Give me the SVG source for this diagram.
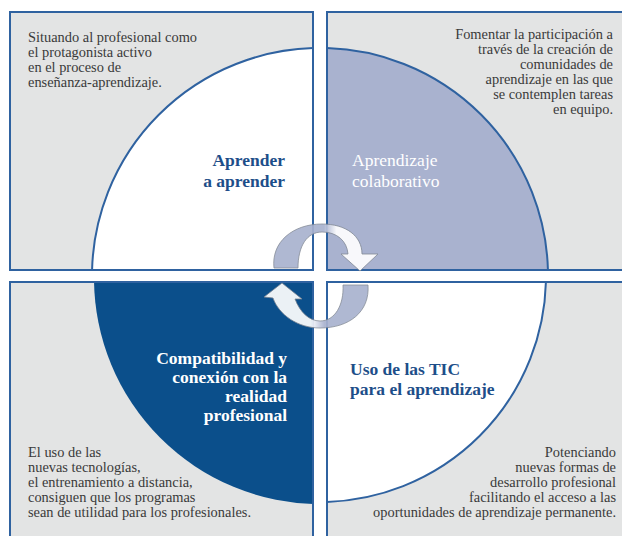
<svg xmlns="http://www.w3.org/2000/svg" width="622" height="536" viewBox="0 0 622 536">
<style>
.panel{fill:#e3e4e4}
.border{fill:none;stroke:#2f62a0;stroke-width:2}
.arrow{stroke:#7d8590;stroke-width:0.8;opacity:0.92}
</style>
<defs>
<clipPath id="cTL"><rect x="10" y="12" width="303" height="258"/></clipPath>
<clipPath id="cTR"><rect x="327" y="12" width="300" height="258"/></clipPath>
<clipPath id="cBL"><rect x="10" y="282" width="303" height="260"/></clipPath>
<clipPath id="cBR"><rect x="327" y="282" width="300" height="260"/></clipPath>
<linearGradient id="gTop" gradientUnits="userSpaceOnUse" x1="274" y1="0" x2="378" y2="0">
<stop offset="0" stop-color="#a9b2cf"/><stop offset="0.48" stop-color="#a9b2cf"/><stop offset="0.6" stop-color="#ffffff"/><stop offset="1" stop-color="#ffffff"/>
</linearGradient>
<linearGradient id="gBot" gradientUnits="userSpaceOnUse" x1="264" y1="0" x2="368" y2="0">
<stop offset="0" stop-color="#ffffff"/><stop offset="0.45" stop-color="#ffffff"/><stop offset="0.58" stop-color="#a9b2cf"/><stop offset="1" stop-color="#a9b2cf"/>
</linearGradient>
</defs>
<rect width="622" height="536" fill="#ffffff"/>

<g id="node-tl">
<g clip-path="url(#cTL)">
<rect class="panel" x="10" y="12" width="303" height="258"/>
<circle cx="320" cy="276" r="228" fill="#ffffff" stroke="#2f62a0" stroke-width="2"/>
</g>
<path class="border" d="M313,270 L10,270 L10,12 L313,12 Z"/>
<text font-family="Liberation Serif, DejaVu Serif, serif" font-size="14.4" fill="#3a3a3a"><tspan x="28" y="42">Situando al profesional como</tspan><tspan x="28" y="57">el protagonista activo</tspan><tspan x="28" y="72">en el proceso de</tspan><tspan x="28" y="87">enseñanza-aprendizaje.</tspan></text>
<text font-family="Liberation Serif, DejaVu Serif, serif" font-size="17.5" font-weight="bold" fill="#1d4e89" text-anchor="end"><tspan x="285" y="166">Aprender</tspan><tspan x="285" y="187">a aprender</tspan></text>
</g>

<g id="node-tr">
<g clip-path="url(#cTR)">
<rect class="panel" x="327" y="12" width="300" height="258"/>
<circle cx="320" cy="276" r="228" fill="#a9b2cf" stroke="#2f62a0" stroke-width="2"/>
</g>
<path class="border" d="M630,12 L327,12 L327,270 L630,270"/>
<text font-family="Liberation Serif, DejaVu Serif, serif" font-size="14.4" fill="#3a3a3a" text-anchor="end"><tspan x="613" y="39">Fomentar la participación a</tspan><tspan x="613" y="54">través de la creación de</tspan><tspan x="613" y="69">comunidades de</tspan><tspan x="613" y="84">aprendizaje en las que</tspan><tspan x="613" y="99">se contemplen tareas</tspan><tspan x="613" y="114">en equipo.</tspan></text>
<text font-family="Liberation Serif, DejaVu Serif, serif" font-size="17.5" fill="#ffffff"><tspan x="352" y="166">Aprendizaje</tspan><tspan x="352" y="187">colaborativo</tspan></text>
</g>

<g id="node-bl">
<g clip-path="url(#cBL)">
<rect class="panel" x="10" y="282" width="303" height="260"/>
<circle cx="320" cy="278" r="226" fill="#0b4f8b"/>
</g>
<path class="border" d="M10,540 L10,282 L313,282 L313,540"/>
<text font-family="Liberation Serif, DejaVu Serif, serif" font-size="17.5" font-weight="bold" fill="#ffffff" text-anchor="end"><tspan x="287" y="364">Compatibilidad y</tspan><tspan x="287" y="383">conexión con la</tspan><tspan x="287" y="402">realidad</tspan><tspan x="287" y="421">profesional</tspan></text>
<text font-family="Liberation Serif, DejaVu Serif, serif" font-size="14.4" fill="#3a3a3a"><tspan x="28" y="457">El uso de las</tspan><tspan x="28" y="472">nuevas tecnologías,</tspan><tspan x="28" y="487">el entrenamiento a distancia,</tspan><tspan x="28" y="502">consiguen que los programas</tspan><tspan x="28" y="517">sean de utilidad para los profesionales.</tspan></text>
</g>

<g id="node-br">
<g clip-path="url(#cBR)">
<rect class="panel" x="327" y="282" width="300" height="260"/>
<circle cx="320" cy="276" r="226" fill="#ffffff" stroke="#2f62a0" stroke-width="2"/>
</g>
<path class="border" d="M327,540 L327,282 L630,282"/>
<text font-family="Liberation Serif, DejaVu Serif, serif" font-size="17.5" font-weight="bold" fill="#1d4e89"><tspan x="350" y="375">Uso de las TIC</tspan><tspan x="350" y="395">para el aprendizaje</tspan></text>
<text font-family="Liberation Serif, DejaVu Serif, serif" font-size="14.4" fill="#3a3a3a" text-anchor="end"><tspan x="616" y="457">Potenciando</tspan><tspan x="616" y="472">nuevas formas de</tspan><tspan x="616" y="487">desarrollo profesional</tspan><tspan x="616" y="502">facilitando el acceso a las</tspan><tspan x="616" y="517">oportunidades de aprendizaje permanente.</tspan></text>
</g>

<g id="connectors">
<path id="arrow-top" class="arrow" fill="url(#gTop)" d="M274,268 C271,242 293,224 322,224 C346,224 362,236 362,254 L378,254 L360,271 L341,254 L348,254 C347,241 337,232 322,232 C307,232 298,246 298,268 Z"/>
<path id="arrow-bottom" class="arrow" fill="url(#gBot)" d="M368,285 C370,312 349,328 320,328 C298,328 279,315 273,298 L264,297 L282,283 L302,299 L295,299 C300,312 309,321 320,321 C335,321 344,305 343,285 Z"/>
</g>
</svg>
